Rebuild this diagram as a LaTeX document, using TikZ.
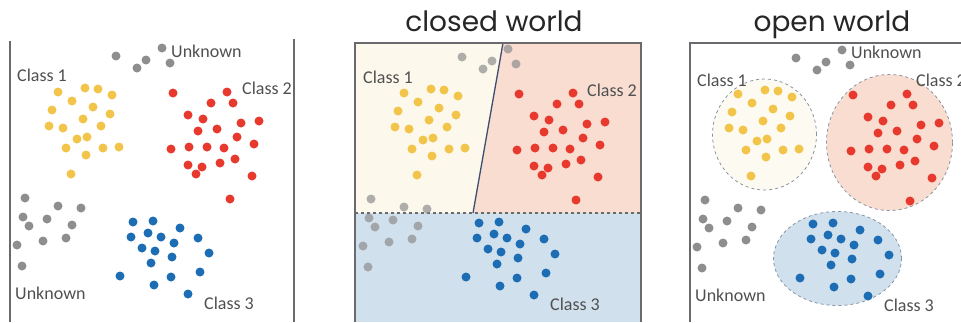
\documentclass[tikz,border=0pt]{standalone}
\usepackage{fontspec}
\setmainfont{Carlito}
\newfontfamily\titlefont{Poppins}
\usetikzlibrary{positioning}
\definecolor{dotyellow}{RGB}{242,197,74}
\definecolor{dotred}{RGB}{231,57,46}
\definecolor{dotblue}{RGB}{29,109,181}
\definecolor{dotgrey}{RGB}{142,142,142}
\definecolor{lblgrey}{RGB}{80,80,80}
\definecolor{zoneyellow}{RGB}{252,248,236}
\definecolor{zonered}{RGB}{248,221,208}
\definecolor{zoneblue}{RGB}{208,224,237}
\definecolor{edgegrey}{RGB}{105,105,110}
\definecolor{splitnavy}{RGB}{62,78,112}
\definecolor{ringgrey}{RGB}{135,148,165}

% one scatter of points, drawn in every panel
\newcommand{\scatter}{
  \foreach \x/\y in {58/92,85/88,98/89,112/95,72/101,93/107,52/110,110/114,83/119,49/126,
                     63/128,101/126,77/139,87/137,66/148,86/155,103/148,119/147,71/174}
    \fill[ydot] (\x,\y) circle[radius=4.5pt];
  \foreach \x/\y in {173/93,227/92,233/103,211/103,188/115,203/119,241/123,259/121,198/131,
                     217/129,237/137,171/149,189/147,207/147,224/148,254/144,188/165,202/167,
                     220/163,235/159,196/174,252/176,230/199}
    \fill[rdot] (\x,\y) circle[radius=4.5pt];
  \foreach \x/\y in {133/222,153/221,180/228,131/237,148/233,161/237,198/238,142/248,155/251,
                     174/243,209/253,172/257,151/263,120/276,154/285,171/277,200/272,188/294}
    \fill[bdot] (\x,\y) circle[radius=4.5pt];
  \foreach \x/\y in {116/56,137/68,146/60,162/48,170/63,25/198,58/206,81/208,23/217,29/226,
                     47/219,72/225,17/245,43/241,66/238,22/266}
    \fill[gdot] (\x,\y) circle[radius=4.5pt];
}

\begin{document}
\begin{tikzpicture}[
    x=1pt, y=-1pt,
    ydot/.style={dotyellow},
    rdot/.style={dotred},
    bdot/.style={dotblue},
    gdot/.style={dotgrey},
    cls/.style={anchor=west, inner sep=0pt, text=lblgrey, font=\fontsize{18}{20}\selectfont},
    ttl/.style={anchor=base, inner sep=0pt, text=black!85, font=\titlefont\fontsize{28}{32}\selectfont},
    frame/.style={draw=edgegrey, line width=1.6pt},
    ring/.style={draw=ringgrey, dashed, line width=0.8pt},
]
\useasboundingbox (0,0) rectangle (961,322);

% ------------------------------------------------------------ raw data ---
\draw[frame] (10,41) coordinate (f1a) -- (10,322) coordinate (f1b);
\draw[frame] (294,39) coordinate (f1c) -- (294,322) coordinate (f1d);
\scatter
\node[cls] (unkTop1) at (171,51) {Unknown};
\node[cls] (cls1a) at (17,75) {Class 1};
\node[cls] (cls2a) at (242,88) {Class 2};
\node[cls] (unkBot1) at (15,293) {Unknown};
\node[cls] (cls3a) at (204,303) {Class 3};

% -------------------------------------------------------- closed world ---
\node[ttl] (closedttl) at (494,31) {closed world};
\coordinate (zTL) at (355,43);
\coordinate (zTR) at (641,43);
\coordinate (zBL) at (355,322);
\coordinate (zBR) at (641,322);
\coordinate (cutL) at (355,213);
\coordinate (cutR) at (641,213);
\coordinate (splitTop) at (503,43);
\coordinate (splitBot) at (473,213);
\fill[zoneyellow] (zTL) -- (splitTop) -- (splitBot) -- (cutL) -- cycle;
\fill[zonered] (splitTop) -- (zTR) -- (cutR) -- (splitBot) -- cycle;
\fill[zoneblue] (cutL) rectangle (zBR);
\draw[splitnavy, line width=1.3pt] (splitTop) -- (splitBot);
\draw[edgegrey, dashed, line width=1.2pt] (cutL) -- (cutR);
\draw[frame, line width=1.2pt] (zBL) -- (zTL) -- (zTR) -- (zBR);
\begin{scope}[shift={(346,1)}, gdot/.append style={opacity=.7}]
  \scatter
\end{scope}
\node[cls] (cls1b) at (363,77) {Class 1};
\node[cls] (cls2b) at (587,90) {Class 2};
\node[cls] (cls3b) at (550,304) {Class 3};

% ---------------------------------------------------------- open world ---
\node[ttl] (openttl) at (832,31) {open world};
\draw[frame, line width=1.2pt] (961,43) coordinate (f3a) -- (690,43) coordinate (f3b) -- (690,322) coordinate (f3c);
\fill[zoneyellow!70!white] (764.5,134.5) coordinate (ring1) ellipse[x radius=52pt, y radius=55.5pt];
\fill[zonered] (889.5,142.5) coordinate (ring2) ellipse[x radius=63pt, y radius=68pt];
\fill[zoneblue] (837.5,258.5) coordinate (ring3) ellipse[x radius=64pt, y radius=47pt];
\draw[ring] (ring1) ellipse[x radius=52pt, y radius=55.5pt];
\draw[ring] (ring2) ellipse[x radius=63pt, y radius=68pt];
\draw[ring] (ring3) ellipse[x radius=64pt, y radius=47pt];
\begin{scope}[shift={(680,2)}]
  \scatter
\end{scope}
\node[cls] (unkTop3) at (851,52) {Unknown};
\node[cls] (cls1c) at (697,80) {Class 1};
\node[cls] (cls2c) at (916,80) {Class 2};
\node[cls] (unkBot3) at (695,295) {Unknown};
\node[cls] (cls3c) at (884,305) {Class 3};

\end{tikzpicture}
\end{document}
